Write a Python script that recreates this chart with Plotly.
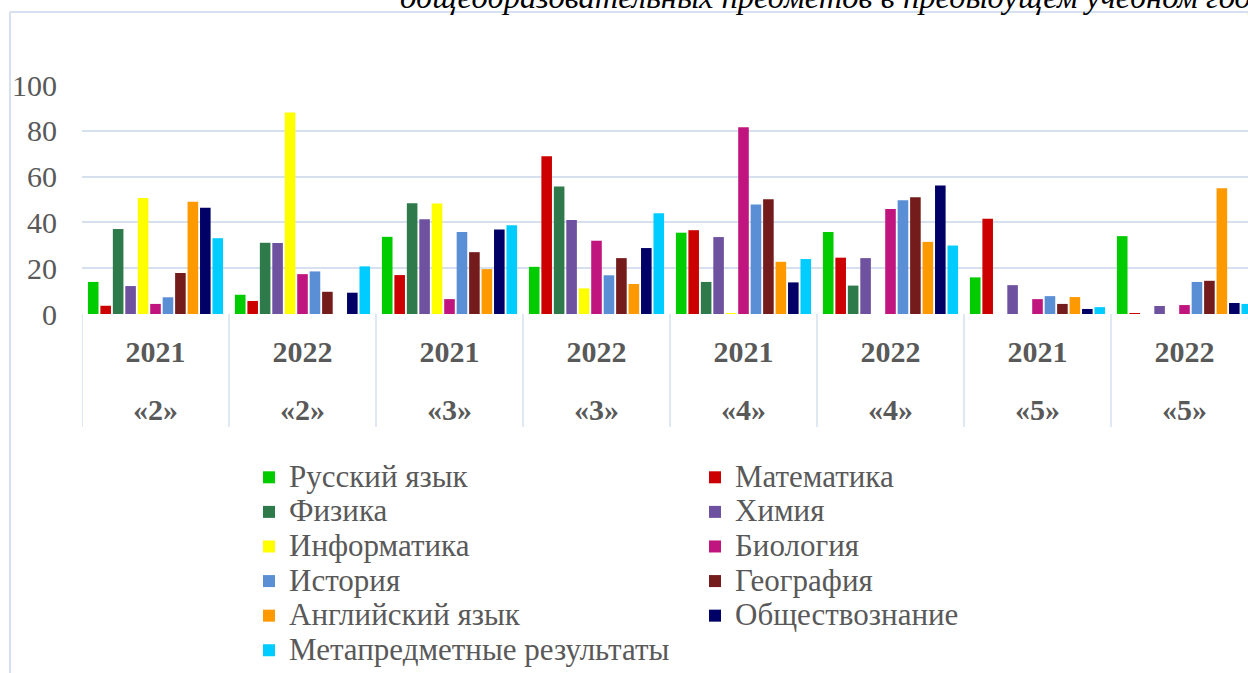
import plotly.graph_objects as go

# ---- data ----
years = ["2021", "2022", "2021", "2022", "2021", "2022", "2021", "2022"]
grades = ["«2»", "«2»", "«3»", "«3»", "«4»", "«4»", "«5»", "«5»"]
subjects = ["Русский язык", "Математика", "Физика", "Химия", "Информатика",
            "Биология", "История", "География", "Английский язык",
            "Обществознание", "Метапредметные результаты"]
russian = [14, 8.4, 33.7, 20.6, 35.5, 35.8, 16, 34]
math = [3.6, 5.7, 17, 68.9, 36.6, 24.6, 41.6, 0.3]
physics = [37.1, 31.1, 48.4, 55.7, 14, 12.4, 0, 0]
chemistry = [12.2, 31, 41.4, 41, 33.6, 24.4, 12.6, 3.5]
informatics = [50.7, 88, 48.3, 11.2, 0.3, 0, 0, 0]
biology = [4.4, 17.4, 6.5, 32, 81.6, 45.8, 6.5, 3.9]
history = [7.3, 18.6, 35.8, 16.9, 47.8, 49.7, 7.8, 14]
geography = [17.9, 9.7, 27, 24.4, 50.1, 51, 4.4, 14.5]
english = [49, 0, 19.6, 13.1, 22.8, 31.5, 7.4, 54.9]
social = [46.4, 9.3, 36.9, 28.8, 13.8, 56.1, 2.2, 4.8]
meta = [33.1, 20.8, 38.8, 44, 24, 29.9, 3, 4.4]
series = [russian, math, physics, chemistry, informatics, biology,
          history, geography, english, social, meta]
colors = ["#00CC00", "#CC0000", "#2E7A4B", "#6E52A0", "#FFFF00", "#C0147E",
          "#5A8FD6", "#741B1B", "#FF9900", "#000066", "#00CCFF"]
yticks = [0, 20, 40, 60, 80, 100]
title_text = "общеобразовательных предметов в предыдущем учебном году"

W, H = 1248, 673
L, T, B = 82, 85, 314  # plot area pixel edges
ph = B - T
FONT = "Liberation Serif"
GRAY = "#595959"
GRID = "#D6E0EF"

keys = [f"{y} {g} {i}" for i, (y, g) in enumerate(zip(years, grades))]

fig = go.Figure()
for name, vals, c in zip(subjects, series, colors):
    fig.add_trace(go.Bar(x=keys, y=vals,
                         name=f"<span style='font-size:31px'>{name}</span>",
                         marker_color=c, marker_line_width=0))

def py(pix):
    return (B - pix) / ph

def px(pix):
    return (pix - L) / (W - L)

ncat = (W - L) / 147.0
fig.update_layout(
    width=W, height=H,
    margin=dict(l=L, r=0, t=T, b=H - B, autoexpand=False),
    paper_bgcolor="white", plot_bgcolor="white",
    barmode="group", bargap=0.068, bargroupgap=0.15,
    font=dict(family=FONT, color=GRAY),
    xaxis=dict(type="category", range=[-0.5, -0.5 + ncat],
               tickvals=keys, ticktext=years,
               tickfont=dict(family=FONT, size=30, color=GRAY, weight="bold"),
               ticklabelstandoff=17, showgrid=False, zeroline=False,
               showline=False),
    yaxis=dict(range=[0, 100], tickvals=yticks, showgrid=True, gridcolor=GRID,
               gridwidth=2, zeroline=False, showline=False,
               tickfont=dict(family=FONT, size=30, color=GRAY),
               ticklabelstandoff=24),
    legend=dict(orientation="h", xref="container", x=249 / W, xanchor="left",
                yref="container", y=1 - 455 / H, yanchor="top",
                entrywidth=401, entrywidthmode="pixels",
                font=dict(family=FONT, size=24.3, color=GRAY),
                traceorder="normal", itemclick=False),
    showlegend=True,
)

# grade labels (second level of category axis)
for k, g in zip(keys, grades):
    fig.add_annotation(x=k, xref="x", y=0, yref="paper", text=g,
                       showarrow=False, yshift=-95, yanchor="middle",
                       font=dict(family=FONT, size=30, color=GRAY, weight="bold"))

# dividers between categories
for i in range(len(keys) + 1):
    fig.add_shape(type="line", xref="x", yref="paper", x0=i - 0.5, x1=i - 0.5,
                  y0=0, y1=py(427), line=dict(color=GRID, width=1.5))

# chart container border
fig.add_shape(type="line", xref="paper", yref="paper", x0=px(10), x1=px(10),
              y0=py(12), y1=py(700), line=dict(color=GRID, width=2))
fig.add_shape(type="line", xref="paper", yref="paper", x0=px(10), x1=px(1260),
              y0=py(12), y1=py(12), line=dict(color=GRID, width=2))

# title (partially cut at top of frame)
fig.add_annotation(x=px(398), xref="paper", xanchor="left", y=py(17),
                   yref="paper", yanchor="bottom", text=title_text,
                   showarrow=False,
                   font=dict(family=FONT, size=32.5, color="#000000", style="italic"))

fig.write_html("out.html", config={"displayModeBar": False},
               post_script="document.body.style.margin='0';")
